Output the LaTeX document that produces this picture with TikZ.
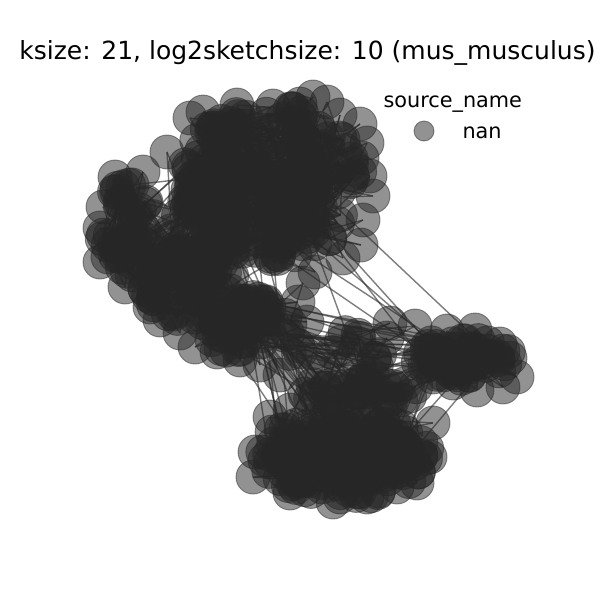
\documentclass[tikz,border=0pt]{standalone}
\usepackage{fontspec}
\setmainfont{DejaVu Sans}
\usetikzlibrary{backgrounds}
\definecolor{nodegray}{RGB}{38,38,38}
\tikzset{
  vertex/.style={circle, minimum size=34pt, inner sep=0pt, fill=nodegray,
                 draw=nodegray, line width=0.9pt, opacity=0.5},
  keydot/.style={circle, minimum size=20pt, inner sep=0pt, fill=nodegray,
                 draw=nodegray, line width=0.9pt, opacity=0.5},
  link/.style={draw=nodegray, line width=1.4pt, opacity=0.6},
  titletext/.style={font=\fontsize{25}{30}\selectfont, anchor=base},
  keytext/.style={font=\fontsize{20.8}{25}\selectfont, anchor=base west},
}
% a cloud of vertices n<first>..n<last> spread evenly over an ellipse
\newcommand\nodecloud[6]{%
  \foreach \i in {#1,...,#2}{%
    \pgfmathsetmacro\rr{sqrt(rnd)}%
    \pgfmathsetmacro\aa{360*rnd}%
    \pgfmathsetmacro\px{#3+#5*\rr*cos(\aa)}%
    \pgfmathsetmacro\py{#4+#6*\rr*sin(\aa)}%
    \node[vertex] (n\i) at (\px,\py) {};
  }}
% random links inside one cloud
\newcommand\linkcloud[3]{%
  \foreach \i in {#1,...,#2}{%
    \foreach \k in {1,...,#3}{%
      \pgfmathtruncatemacro\j{random(#1,#2)}%
      \draw[link] (n\i.center) -- (n\j.center);
    }}}
% random links between two clouds
\newcommand\linkacross[5]{%
  \foreach \k in {1,...,#5}{%
    \pgfmathtruncatemacro\i{random(#1,#2)}%
    \pgfmathtruncatemacro\j{random(#3,#4)}%
    \draw[link] (n\i.center) -- (n\j.center);
  }}
% outer vertices: x/y/first/last of the cloud they join
\def\rimlist{
  190/118/1/180, 203/112/1/180, 237/105/1/180, 273/106/1/180, 300/104/1/180,
  313/97/1/180, 327/102/1/180, 340/115/1/180, 360/124/1/180, 367/143/1/180,
  362/158/1/180, 370/176/1/180, 373/196/1/180, 363/220/1/180, 361/245/1/180,
  343/258/1/180, 315/272/1/180, 167/152/181/220, 215/128/1/180,
  115/177/221/260, 143/172/221/260, 103/207/221/260, 100/228/221/260,
  108/245/221/260, 100/262/221/260, 125/287/221/260,
  150/307/261/320, 160/320/261/320, 180/333/261/320,
  195/347/321/370, 217/352/321/370, 240/360/321/370, 260/365/321/370,
  280/375/321/370, 303/283/321/370, 307/322/321/370, 298/302/321/370,
  357/343/371/390, 387/338/371/390, 390/323/371/390, 415/326/371/390,
  447/331/391/450, 475/330/391/450, 500/344/391/450, 510/358/391/450,
  517/377/391/450, 503/387/391/450, 477/390/391/450, 453/383/391/450,
  433/377/391/450,
  270/417/451/600, 255/452/451/600, 253/477/451/600, 290/493/451/600,
  333/502/451/600, 340/497/451/600, 367/497/451/600, 397/487/451/600,
  417/483/451/600, 430/457/451/600, 433/423/451/600, 290/410/451/600}
\begin{document}
\begin{tikzpicture}[x=1pt, y=-1pt]
  \useasboundingbox (0,0) rectangle (600,600);
  \pgfmathsetseed{4711}

  % vertices
  \nodecloud{1}{180}{272}{182}{90}{78}     % upper group
  \nodecloud{181}{220}{205}{228}{45}{38}   % upper-left bridge
  \nodecloud{221}{260}{128}{230}{27}{48}   % left edge
  \nodecloud{261}{320}{188}{282}{45}{38}   % lower left
  \nodecloud{321}{370}{248}{325}{50}{28}   % left tail
  \nodecloud{371}{390}{335}{362}{62}{30}   % middle
  \nodecloud{391}{450}{465}{358}{48}{22}   % right group
  \nodecloud{451}{600}{343}{455}{85}{45}   % lower group
  \nodecloud{601}{630}{362}{392}{60}{14}   % lower-right seam
  \foreach \x/\y/\a/\b [count=\c] in \rimlist {
    \node[vertex] (r\c) at (\x,\y) {};
  }

  % links, beneath the vertices
  \begin{pgfonlayer}{background}
    \linkcloud{1}{180}{3}
    \linkcloud{181}{220}{3}
    \linkcloud{221}{260}{3}
    \linkcloud{261}{320}{3}
    \linkcloud{321}{370}{3}
    \linkcloud{371}{390}{2}
    \linkcloud{391}{450}{3}
    \linkcloud{451}{600}{3}
    \linkcloud{601}{630}{2}
    \linkacross{1}{180}{181}{320}{40}
    \linkacross{181}{260}{261}{370}{30}
    \linkacross{1}{180}{391}{450}{6}
    \linkacross{1}{180}{451}{600}{6}
    \linkacross{321}{370}{391}{450}{10}
    \linkacross{321}{370}{451}{600}{18}
    \linkacross{321}{370}{371}{390}{12}
    \linkacross{371}{390}{391}{450}{10}
    \linkacross{371}{390}{451}{600}{12}
    \linkacross{391}{450}{451}{630}{10}
    \linkacross{601}{630}{451}{600}{10}
    \foreach \x/\y/\a/\b [count=\c] in \rimlist {
      \foreach \k in {1,2}{
        \pgfmathtruncatemacro\j{random(\a,\b)}
        \draw[link] (r\c.center) -- (n\j.center);
      }
    }
  \end{pgfonlayer}

  % title and legend
  \node[titletext] (title) at (307.5,59) {ksize: 21, log2sketchsize: 10 (mus\_musculus)};
  \node[keytext] (keyhead) at (380,107) {source\_name};
  \node[keydot] (keymark) at (424,131) {};
  \node[keytext] (keylabel) at (459,138) {nan};
\end{tikzpicture}
\end{document}
